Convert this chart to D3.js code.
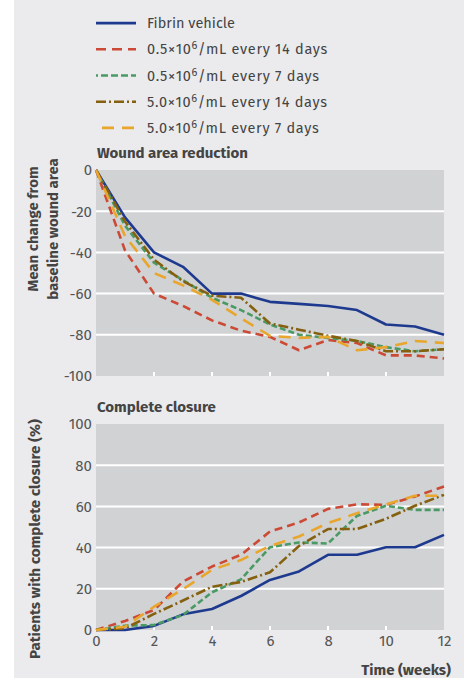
<!DOCTYPE html>
<html>
<head>
<meta charset="utf-8">
<script src="https://cdn.jsdelivr.net/npm/d3@7"></script>
<style>
html,body{margin:0;padding:0;background:#fff;}
svg{display:block;font-family:"Fira Sans","Open Sans","Noto Sans",sans-serif;}
</style>
</head>
<body>
<svg id="chart" width="464" height="678"></svg>
<script>
const weeks = [0,1,2,3,4,5,6,7,8,9,10,11,12];
const seriesNames = ["Fibrin vehicle","0.5×10⁶/mL every 14 days","0.5×10⁶/mL every 7 days","5.0×10⁶/mL every 14 days","5.0×10⁶/mL every 7 days"];
const seriesColors = ["#1e3a8f","#cc4a35","#4a9a66","#85600f","#e9a62c"];
const seriesDash = [null,"8,5","6,3","10,3,2,3","12,8"];

const woundFibrin = [0,-23,-40,-47,-60,-60,-64,-65,-66,-68,-75,-76,-80];
const wound05_14 = [0,-39,-60,-66,-73,-78,-81,-87.5,-82.5,-84,-90,-90,-91.5];
const wound05_7 = [0,-27,-45,-53.5,-62,-68,-75,-80,-81.5,-83,-86,-88,-87];
const wound50_14 = [0,-25,-43.5,-54,-61,-62,-74.5,-77.5,-80.5,-83,-88,-88,-87];
const wound50_7 = [0,-32,-50,-56,-63,-72,-80.5,-81.5,-81,-87.5,-86,-83,-84];

const closeFibrin = [0,0,2,7.6,10.2,16.5,24.3,28.4,36.5,36.5,40.2,40.2,46.2];
const close05_14 = [0,4.4,9.7,23.5,30.8,36.5,47.8,52.2,58.8,61,60.8,64.8,69.7];
const close05_7 = [0,2.1,2.4,7.3,18.3,24.6,40.2,42.5,42,55.4,60.3,58.3,58.3];
const close50_14 = [0,0.8,7.8,14.3,21,23.3,28,40.8,49,49,54,60.3,65.6];
const close50_7 = [0,1.6,11.3,19.8,29.2,34,40.8,45.4,51.9,56.7,61,65.2,65.2];

const woundTicks = [0,-20,-40,-60,-80,-100];
const closeTicks = [0,20,40,60,80,100];
const xTicks = [0,2,4,6,8,10,12];

const woundSeries = [woundFibrin,wound05_14,wound05_7,wound50_14,wound50_7];
const closeSeries = [closeFibrin,close05_14,close05_7,close50_14,close50_7];

const svg = d3.select("#chart");
svg.append("rect").attr("x",14).attr("y",0).attr("width",450).attr("height",678).attr("fill","#ebebed");

const x = d3.scaleLinear().domain([0,12]).range([96,444]);
const textColor = "#444";

// Legend
const legendY = d3.scaleBand().domain(d3.range(5)).range([10,141]);
seriesNames.forEach((name,i)=>{
  const cy = legendY(i) + legendY.bandwidth()/2;
  svg.append("line").attr("x1", i===4?102:96).attr("x2",136).attr("y1",cy).attr("y2",cy)
    .attr("stroke",seriesColors[i]).attr("stroke-width",2.6)
    .attr("stroke-dasharray",i===2?"2,3,7,3,7,3,7,3,7":(i===1?"10,6":seriesDash[i]));
  const t = svg.append("text").attr("x",147).attr("y",cy+5).attr("font-size",14.5).attr("fill",textColor);
  const m = name.match(/^(.*×10)⁶(.*)$/);
  if(m){
    t.attr("letter-spacing",0.7);
    t.append("tspan").text(m[1]);
    t.append("tspan").attr("dy",-5).attr("font-size",11).text("6");
    t.append("tspan").attr("dy",5).text(m[2]);
  } else t.text(name);
});

function panel(yScale, ticks, data, title, titleY, showXLabels){
  const [y0,y1] = yScale.range();
  const top = Math.min(y0,y1), bot = Math.max(y0,y1);
  svg.append("rect").attr("x",96).attr("y",top).attr("width",348).attr("height",bot-top).attr("fill","#d1d2d4");
  svg.append("g").selectAll("line").data(ticks.filter(t=>yScale(t)>top+1 && yScale(t)<bot-1)).join("line")
    .attr("x1",96).attr("x2",444).attr("y1",d=>yScale(d)).attr("y2",d=>yScale(d))
    .attr("stroke","#fff").attr("stroke-width",2);
  const ya = svg.append("g").attr("transform","translate(96,0)")
    .call(d3.axisLeft(yScale).tickValues(ticks).tickSize(0).tickPadding(4).tickFormat(d=>String(d)));
  ya.select(".domain").remove();
  ya.selectAll("text").attr("font-size",15).attr("fill","#555").attr("font-family","Fira Sans, Open Sans, Noto Sans, sans-serif");
  svg.append("g").selectAll("line").data(xTicks.filter(d=>d>0&&d<12)).join("line")
    .attr("x1",d=>x(d)).attr("x2",d=>x(d)).attr("y1",bot).attr("y2",bot-4)
    .attr("stroke","#fff").attr("stroke-width",2);
  if(showXLabels){
    const xa = svg.append("g").attr("transform",`translate(0,${bot})`)
      .call(d3.axisBottom(x).tickValues(xTicks).tickSize(0).tickPadding(5));
    xa.select(".domain").remove();
    xa.selectAll("text").attr("font-size",15).attr("fill","#555").attr("font-family","Fira Sans, Open Sans, Noto Sans, sans-serif");
  }
  const line = d3.line().x((d,i)=>x(weeks[i])).y(d=>yScale(d));
  data.forEach((s,i)=>{
    svg.append("path").datum(s).attr("d",line).attr("fill","none")
      .attr("stroke",seriesColors[i]).attr("stroke-width",2.6)
      .attr("stroke-linejoin","round")
      .attr("stroke-dasharray",seriesDash[i]);
  });
  svg.append("text").attr("x",97).attr("y",titleY).attr("font-size",15).attr("font-weight","bold").attr("fill",textColor).text(title);
}

const yW = d3.scaleLinear().domain([0,-100]).range([170,376]);
panel(yW, woundTicks, woundSeries, "Wound area reduction", 158, false);
const yC = d3.scaleLinear().domain([0,100]).range([630,424]);
panel(yC, closeTicks, closeSeries, "Complete closure", 412, true);

svg.append("text").attr("transform","translate(38,229) rotate(-90)").attr("text-anchor","middle")
  .attr("font-size",15).attr("font-weight","bold").attr("fill",textColor).text("Mean change from");
svg.append("text").attr("transform","translate(58,229) rotate(-90)").attr("text-anchor","middle")
  .attr("font-size",15).attr("font-weight","bold").attr("fill",textColor).text("baseline wound area");
svg.append("text").attr("transform","translate(40,539) rotate(-90)").attr("text-anchor","middle")
  .attr("font-size",15.2).attr("font-weight","bold").attr("fill",textColor).text("Patients with complete closure (%)");
svg.append("text").attr("x",451).attr("y",675).attr("text-anchor","end")
  .attr("font-size",15).attr("font-weight","bold").attr("fill",textColor).text("Time (weeks)");
</script>
</body>
</html>
